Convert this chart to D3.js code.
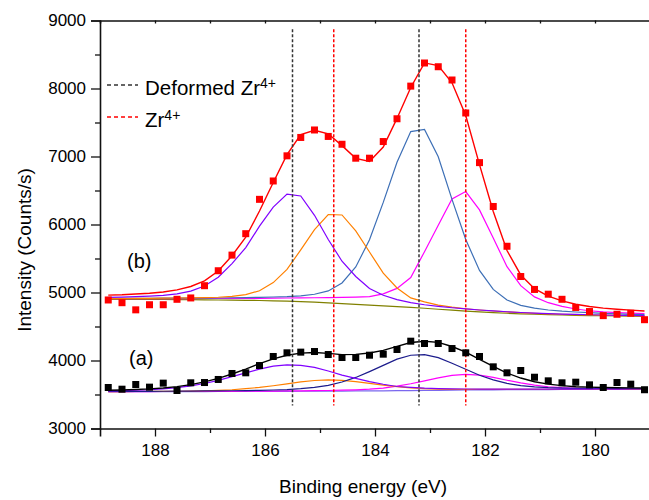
<!DOCTYPE html>
<html>
<head>
<meta charset="utf-8">
<script src="https://cdn.jsdelivr.net/npm/d3@7"></script>
<style>
  body { margin: 0; background: #fff; }
  #chart-container { width: 649px; height: 500px; }
  text { font-family: Arial, "Liberation Sans", sans-serif; fill: #000; }
  .axis path, .axis line { stroke: #111; }
</style>
</head>
<body>
<div id="chart-container"></div>
<script>
// binding energy of every measured point (eV)
const energy = [188.85,188.6,188.35,188.1,187.85,187.6,187.35,187.1,186.85,186.6,186.35,186.1,185.85,185.6,185.35,185.1,184.85,184.6,184.35,184.1,183.85,183.6,183.35,183.1,182.85,182.6,182.35,182.1,181.85,181.6,181.35,181.1,180.85,180.6,180.35,180.1,179.85,179.6,179.35,179.1];

// spectrum (b) - measured + fit components
const countsB = [4890,4850,4745,4820,4820,4900,4920,5100,5320,5550,5865,6370,6640,7010,7280,7390,7295,7180,6975,6975,7220,7555,8035,8375,8320,8125,7640,6910,6265,5680,5235,5045,4975,4900,4780,4720,4660,4680,4695,4600];
const envelopeB = [4961,4967,4979,4990,5008,5039,5088,5172,5316,5541,5813,6199,6617,7028,7321,7386,7334,7160,6973,6928,7140,7560,8015,8376,8337,8084,7602,6880,6191,5617,5258,5057,4947,4876,4827,4795,4770,4754,4741,4729];
const backgroundB = [4900,4900,4899,4898,4897,4896,4894,4892,4890,4888,4885,4882,4878,4873,4866,4857,4847,4836,4825,4814,4803,4792,4781,4768,4754,4740,4727,4715,4704,4695,4687,4680,4674,4669,4665,4661,4658,4655,4652,4650];
const purpleB = [4929,4933,4939,4946,4957,4980,5020,5095,5225,5425,5660,5975,6255,6448,6420,6135,5780,5460,5235,5060,4960,4895,4852,4820,4797,4776,4758,4743,4729,4717,4706,4697,4690,4683,4678,4673,4669,4665,4662,4659];
const orangeB = [4911,4912,4913,4914,4916,4919,4921,4924,4930,4944,4969,5026,5145,5340,5627,5925,6147,6140,5906,5595,5284,5066,4920,4862,4815,4784,4761,4743,4728,4715,4703,4694,4686,4680,4674,4669,4666,4662,4659,4656];
const blueB = [4912,4913,4914,4914,4916,4917,4918,4917,4919,4923,4925,4929,4934,4940,4951,4974,5023,5140,5375,5775,6325,6915,7366,7398,6997,6369,5779,5324,5046,4890,4810,4771,4743,4725,4713,4704,4693,4687,4679,4674];
const magentaB = [4909,4909,4910,4910,4910,4911,4911,4912,4912,4913,4914,4915,4917,4919,4921,4923,4925,4928,4932,4940,4980,5060,5220,5600,5990,6375,6485,6215,5800,5380,5100,4935,4850,4795,4757,4732,4716,4705,4697,4690];

// spectrum (a)
const countsA = [3603,3578,3647,3608,3667,3559,3672,3676,3721,3809,3819,3926,4059,4113,4123,4132,4088,4044,4044,4078,4093,4162,4284,4250,4250,4176,4113,4059,3907,3819,3853,3754,3701,3672,3681,3642,3603,3676,3652,3570];
const envelopeA = [3562,3567,3574,3582,3596,3616,3645,3685,3738,3802,3874,3953,4024,4077,4109,4117,4105,4087,4090,4110,4149,4207,4264,4284,4266,4206,4124,4018,3914,3816,3742,3688,3652,3630,3615,3608,3604,3599,3598,3596];
const backgroundA = [3540,3540,3541,3541,3542,3542,3543,3543,3544,3544,3545,3545,3546,3547,3548,3549,3550,3551,3552,3553,3554,3556,3558,3560,3562,3564,3566,3568,3569,3570,3571,3572,3573,3574,3575,3575,3576,3576,3577,3577];
const purpleA = [3554,3557,3563,3570,3583,3601,3627,3662,3708,3762,3818,3874,3917,3936,3929,3898,3846,3785,3737,3690,3651,3618,3605,3593,3586,3582,3581,3580,3580,3579,3579,3579,3580,3580,3580,3580,3581,3580,3581,3581];
const orangeA = [3543,3543,3545,3545,3547,3548,3551,3555,3561,3570,3585,3604,3629,3657,3685,3706,3715,3708,3689,3663,3637,3615,3598,3586,3579,3576,3574,3574,3574,3574,3575,3575,3576,3577,3577,3577,3578,3578,3579,3579];
const navyA = [3544,3545,3546,3547,3548,3549,3551,3552,3554,3555,3558,3561,3566,3573,3585,3604,3635,3684,3751,3837,3928,4020,4077,4085,4042,3959,3871,3783,3715,3663,3630,3612,3601,3595,3591,3589,3588,3586,3586,3585];
const magentaA = [3541,3542,3543,3543,3544,3544,3545,3545,3547,3547,3548,3549,3550,3552,3554,3556,3559,3563,3569,3579,3595,3622,3658,3700,3745,3781,3796,3785,3752,3710,3671,3638,3614,3600,3592,3587,3585,3583,3583,3582];

// peak positions marked with dashed lines
const deformedPeaks = [185.5, 183.2];
const zrPeaks = [184.75, 182.35];

const xMajorTicks = [180, 182, 184, 186, 188];
const xMinorTicks = [181, 183, 185, 187];
const xTopTicks = [180, 181, 182, 183, 184, 185, 186, 187, 188];
const yMajorTicks = [3000, 4000, 5000, 6000, 7000, 8000, 9000];
const yMinorTicks = [3500, 4500, 5500, 6500, 7500, 8500];

const width = 649, height = 500;
const svg = d3.select("#chart-container").append("svg")
  .attr("width", width)
  .attr("height", height);

const x = d3.scaleLinear().domain([189, 179]).range([100, 650]);
const y = d3.scaleLinear().domain([3000, 9000]).range([428.5, 20.5]);

// axes
svg.append("g").attr("class", "axis")
  .attr("transform", "translate(0,428.5)")
  .call(d3.axisBottom(x).tickValues(xMajorTicks).tickSize(8).tickPadding(7).tickFormat(d3.format("d")))
  .call(g => g.selectAll("text").style("font-size", "17px"));
svg.append("g").attr("class", "axis")
  .attr("transform", "translate(0,428.5)")
  .call(d3.axisBottom(x).tickValues(xMinorTicks).tickSize(4.5).tickFormat(""))
  .call(g => g.select(".domain").remove());
svg.append("g").attr("class", "axis")
  .attr("transform", "translate(0,20.5)")
  .call(d3.axisTop(x).tickValues(xTopTicks).tickSize(-3).tickFormat(""));

svg.append("g").attr("class", "axis")
  .attr("transform", "translate(100,0)")
  .call(d3.axisLeft(y).tickValues(yMajorTicks).tickSize(9).tickPadding(5).tickFormat(d3.format("d")))
  .call(g => g.selectAll("text").style("font-size", "17px"));
svg.append("g").attr("class", "axis")
  .attr("transform", "translate(100,0)")
  .call(d3.axisLeft(y).tickValues(yMinorTicks).tickSize(5).tickFormat(""))
  .call(g => g.select(".domain").remove());

svg.selectAll(".axis .domain").attr("stroke-width", 1.6);
svg.selectAll(".axis .tick line").attr("stroke-width", 1.3);

// axis titles
svg.append("text")
  .attr("x", 363).attr("y", 493)
  .attr("text-anchor", "middle")
  .style("font-size", "19px")
  .text("Binding energy (eV)");

svg.append("text")
  .attr("transform", "translate(31,250) rotate(-90)")
  .attr("text-anchor", "middle")
  .style("font-size", "19px")
  .text("Intensity (Counts/s)");

// curves
const plot = svg.append("g");

function drawLine(values, color, w) {
  const line = d3.line()
    .x((d, i) => x(energy[i]))
    .y(d => y(d));
  plot.append("path")
    .datum(values)
    .attr("fill", "none")
    .attr("stroke", color)
    .attr("stroke-width", w || 1.2)
    .attr("d", line);
}

drawLine(backgroundB, "#808000");
drawLine(magentaB, "#ff00ff");
drawLine(blueB, "#3d6fb6");
drawLine(orangeB, "#ff8000");
drawLine(purpleB, "#8000ff");
drawLine(envelopeB, "#ff0000", 1.4);

drawLine(backgroundA, "#7b68ee");
drawLine(magentaA, "#ff00ff");
drawLine(orangeA, "#ff8000");
drawLine(navyA, "#1c1c8c");
drawLine(purpleA, "#8000ff");
drawLine(envelopeA, "#000000", 1.4);

// dashed peak markers
plot.selectAll(".deformed")
  .data(deformedPeaks)
  .enter().append("line")
  .attr("x1", d => x(d)).attr("x2", d => x(d))
  .attr("y1", y(8870)).attr("y2", y(3340))
  .attr("stroke", "#333")
  .attr("stroke-width", 1.5)
  .attr("stroke-dasharray", "3,2");

plot.selectAll(".zr")
  .data(zrPeaks)
  .enter().append("line")
  .attr("x1", d => x(d)).attr("x2", d => x(d))
  .attr("y1", y(8870)).attr("y2", y(3340))
  .attr("stroke", "#ff0000")
  .attr("stroke-width", 1.5)
  .attr("stroke-dasharray", "3,2");

// measured points
const sq = 7;
plot.selectAll(".ptB")
  .data(countsB)
  .enter().append("rect")
  .attr("x", (d, i) => x(energy[i]) - sq / 2)
  .attr("y", d => y(d) - sq / 2)
  .attr("width", sq).attr("height", sq)
  .attr("fill", "#ff0000");

plot.selectAll(".ptA")
  .data(countsA)
  .enter().append("rect")
  .attr("x", (d, i) => x(energy[i]) - sq / 2)
  .attr("y", d => y(d) - sq / 2)
  .attr("width", sq).attr("height", sq)
  .attr("fill", "#000000");

// legend
const legend = [
  { label: "Deformed Zr", color: "#333", y: 85 },
  { label: "Zr", color: "#ff0000", y: 117 }
];
legend.forEach(l => {
  svg.append("line")
    .attr("x1", 107).attr("x2", 138)
    .attr("y1", l.y).attr("y2", l.y)
    .attr("stroke", l.color)
    .attr("stroke-width", 1.5)
    .attr("stroke-dasharray", "4,3");
  const t = svg.append("text")
    .attr("x", 145).attr("y", l.y + 10)
    .style("font-size", "20.5px")
    .text(l.label);
  t.append("tspan")
    .attr("dy", "-0.5em")
    .style("font-size", "14px")
    .text("4+");
});

// spectrum labels
svg.append("text").attr("x", 127).attr("y", 268).style("font-size", "20px").text("(b)");
svg.append("text").attr("x", 129).attr("y", 365).style("font-size", "20px").text("(a)");
</script>
</body>
</html>
